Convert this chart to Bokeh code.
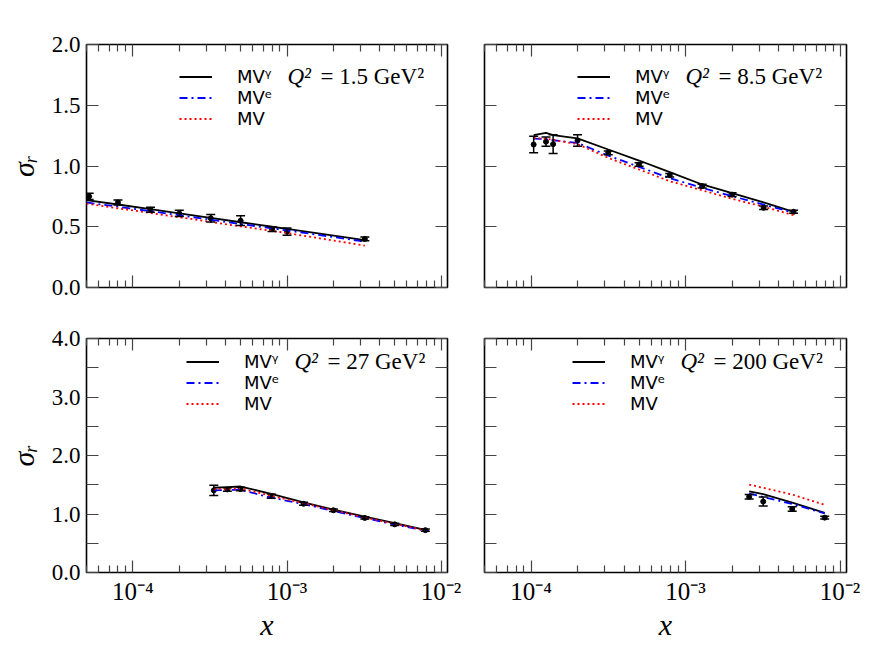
from bokeh.plotting import figure
from bokeh.models import (ColumnDataSource, Whisker, TeeHead, Range1d, FixedTicker, LogAxis,
                          LinearAxis, CustomJSTickFormatter, Legend, LegendItem, Label)
from bokeh.layouts import row, column
from bokeh.embed import file_html
from bokeh.resources import INLINE

# ---------------- data ----------------
q2_values = ["1.5", "8.5", "27", "200"]
legend_labels = ["MV\u1d5e", "MV\u1d49", "MV"]

# Q^2 = 1.5 GeV^2
p1_x = [5.2e-5, 8.0e-5, 1.3e-4, 2.0e-4, 3.2e-4, 5.0e-4, 8.0e-4, 1.0e-3, 3.2e-3]
p1_sigma = [0.75, 0.70, 0.64, 0.61, 0.57, 0.55, 0.48, 0.46, 0.40]
p1_err = [0.025, 0.02, 0.02, 0.025, 0.03, 0.04, 0.02, 0.03, 0.015]
p1_xth = [5.0e-5, 8.0e-5, 1.3e-4, 2.0e-4, 3.2e-4, 5.0e-4, 8.0e-4, 1.0e-3, 3.2e-3]
p1_mvg = [0.72, 0.683, 0.645, 0.61, 0.573, 0.537, 0.50, 0.482, 0.39]
p1_mve = [0.70, 0.665, 0.628, 0.595, 0.558, 0.522, 0.487, 0.47, 0.378]
p1_mv = [0.69, 0.652, 0.613, 0.578, 0.54, 0.503, 0.466, 0.448, 0.345]

# Q^2 = 8.5 GeV^2
p2_x = [1.04e-4, 1.25e-4, 1.39e-4, 2.0e-4, 3.16e-4, 5.0e-4, 7.9e-4, 1.28e-3, 2.0e-3, 3.2e-3, 5.0e-3]
p2_sigma = [1.177, 1.20, 1.18, 1.21, 1.108, 1.012, 0.924, 0.834, 0.765, 0.656, 0.623]
p2_err = [0.067, 0.038, 0.078, 0.048, 0.015, 0.015, 0.015, 0.015, 0.015, 0.015, 0.012]
p2_xth = [1.04e-4, 1.25e-4, 1.39e-4, 2.0e-4, 3.16e-4, 5.0e-4, 7.9e-4, 1.28e-3, 2.0e-3, 3.2e-3, 5.0e-3]
p2_mvg = [1.255, 1.273, 1.255, 1.228, 1.136, 1.045, 0.949, 0.848, 0.776, 0.70, 0.623]
p2_mve = [1.226, 1.222, 1.212, 1.19, 1.086, 0.993, 0.90, 0.82, 0.752, 0.683, 0.615]
p2_mv = [1.23, 1.225, 1.215, 1.18, 1.067, 0.971, 0.875, 0.80, 0.73, 0.665, 0.595]

# Q^2 = 27 GeV^2
p3_x = [3.35e-4, 4.1e-4, 5.0e-4, 7.9e-4, 1.28e-3, 2.0e-3, 3.2e-3, 5.0e-3, 7.9e-3]
p3_sigma = [1.404, 1.42, 1.427, 1.305, 1.174, 1.064, 0.933, 0.823, 0.724]
p3_err = [0.088, 0.03, 0.03, 0.035, 0.025, 0.02, 0.02, 0.02, 0.02]
p3_xth = [3.35e-4, 4.1e-4, 5.0e-4, 7.9e-4, 1.28e-3, 2.0e-3, 3.2e-3, 5.0e-3, 8.3e-3]
p3_mvg = [1.449, 1.46, 1.47, 1.345, 1.20, 1.075, 0.955, 0.845, 0.715]
p3_mve = [1.404, 1.41, 1.415, 1.28, 1.17, 1.05, 0.93, 0.82, 0.705]
p3_mv = [1.426, 1.432, 1.437, 1.31, 1.185, 1.065, 0.94, 0.83, 0.71]

# Q^2 = 200 GeV^2
p4_x = [2.58e-3, 3.18e-3, 4.9e-3, 7.95e-3]
p4_sigma = [1.295, 1.213, 1.086, 0.938]
p4_err = [0.04, 0.077, 0.04, 0.025]
p4_xth = [2.58e-3, 3.18e-3, 4.9e-3, 7.95e-3]
p4_mvg = [1.388, 1.338, 1.196, 1.02]
p4_mve = [1.35, 1.29, 1.17, 1.01]
p4_mv = [1.503, 1.448, 1.333, 1.158]

x_major = [1e-4, 1e-3, 1e-2]
y_top_ticks = [0.0, 0.5, 1.0, 1.5, 2.0]
y_bot_ticks = [0.0, 0.5, 1.0, 1.5, 2.0, 2.5, 3.0, 3.5, 4.0]

# ---------------- styling helpers ----------------
SERIF = "Liberation Serif"
x_minor = [m * 10.0 ** e for e in (-5, -4, -3, -2) for m in range(2, 10)]

xfmt_js = """
const e = Math.round(Math.log10(tick));
const sup = {'-':'\u207b','0':'\u2070','1':'\u00b9','2':'\u00b2','3':'\u00b3','4':'\u2074','5':'\u2075','6':'\u2076'};
return '10' + String(e).split('').map(c => sup[c]).join('');
"""
blank_js = "return '';"
ytop_js = "return tick.toFixed(1);"
ybot_js = "return (Math.abs(tick - Math.round(tick)) < 1e-6) ? tick.toFixed(1) : '';"


def style_axis(ax, fmt_code, size="23px"):
    ax.formatter = CustomJSTickFormatter(code=fmt_code)
    ax.major_tick_in = 12
    ax.major_tick_out = 0
    ax.minor_tick_in = 7
    ax.minor_tick_out = 0
    ax.major_tick_line_color = "#444444"
    ax.minor_tick_line_color = "#444444"
    ax.major_tick_line_width = 1.2
    ax.minor_tick_line_width = 1.2
    ax.axis_line_color = None
    ax.major_label_text_font = SERIF
    ax.major_label_text_font_size = size
    ax.major_label_text_color = "black"
    ax.axis_label_text_font = SERIF
    ax.axis_label_text_font_style = "italic"
    ax.axis_label_text_font_size = "30px"
    ax.axis_label_text_color = "black"


def make_panel(width, height, borders, ymax, yticks, yfmt_main, show_x, show_ylabel,
               xd, sd, ed, xth, mvg, mve, mv, q2, leg_x):
    bl, br, bt, bb = borders
    p = figure(width=width, height=height, x_axis_type="log",
               x_range=Range1d(5.0e-5, 1.1e-2), y_range=Range1d(0, ymax),
               output_backend="svg", toolbar_location=None,
               min_border_left=bl, min_border_right=br, min_border_top=bt, min_border_bottom=bb)
    p.xgrid.visible = False
    p.ygrid.visible = False
    p.outline_line_color = "black"
    p.outline_line_width = 1.6
    p.outline_line_alpha = 1.0
    p.background_fill_color = "white"
    p.border_fill_color = "white"

    xt = FixedTicker(ticks=x_major, minor_ticks=x_minor)
    yt = FixedTicker(ticks=yticks)

    bottom = p.below[0]
    bottom.ticker = xt
    style_axis(bottom, xfmt_js if show_x else blank_js, size="25px")
    if show_x:
        bottom.axis_label = "x"
        bottom.major_label_standoff = 5
        bottom.axis_label_standoff = 0
    left = p.left[0]
    left.ticker = yt
    style_axis(left, yfmt_main if show_ylabel else blank_js)
    if show_ylabel:
        left.axis_label = "\u03c3\u1d63"
        left.major_label_standoff = 6
        left.axis_label_standoff = 9

    top = LogAxis(ticker=xt)
    style_axis(top, blank_js)
    p.add_layout(top, "above")
    right = LinearAxis(ticker=yt)
    style_axis(right, blank_js)
    p.add_layout(right, "right")

    src = ColumnDataSource(dict(x=xd, y=sd,
                                upper=[s + e for s, e in zip(sd, ed)],
                                lower=[s - e for s, e in zip(sd, ed)]))
    wh = Whisker(source=src, base="x", upper="upper", lower="lower",
                 line_color="black", line_width=1.5,
                 upper_head=TeeHead(size=9, line_color="black", line_width=1.5),
                 lower_head=TeeHead(size=9, line_color="black", line_width=1.5))
    wh.level = "glyph"
    p.add_layout(wh)
    p.scatter("x", "y", source=src, size=5, color="black")

    r1 = p.line(xth, mvg, line_color="black", line_width=1.8)
    r2 = p.line(xth, mve, line_color="blue", line_width=1.8, line_dash="8 4 2 4")
    r3 = p.line(xth, mv, line_color="red", line_width=1.8, line_dash="2 3")

    # one legend per row so that rows sit exactly where the reference has them
    row_centres = [210.7, 189.7, 168.7]
    for lab, rend, yc in zip(legend_labels, [r1, r2, r3], row_centres):
        leg = Legend(items=[LegendItem(label=lab, renderers=[rend])],
                     location=(leg_x, yc - 10.5), padding=0, spacing=0, margin=0,
                     glyph_width=33, glyph_height=21, label_height=21, label_standoff=25,
                     border_line_color=None, background_fill_alpha=0.0,
                     label_text_font="DejaVu Sans", label_text_font_size="18px",
                     label_text_color="black")
        p.add_layout(leg)

    p.add_layout(Label(x=leg_x + 108, y=row_centres[0], x_units="screen", y_units="screen",
                       text="Q\u00b2", text_font=SERIF, text_font_style="italic",
                       text_font_size="23px", text_baseline="middle", text_color="black"))
    p.add_layout(Label(x=leg_x + 141, y=row_centres[0], x_units="screen", y_units="screen",
                       text="= " + q2 + " GeV\u00b2", text_font=SERIF,
                       text_font_size="23px", text_baseline="middle", text_color="black"))
    return p


p1 = make_panel(465, 312, (86, 18, 44, 25), 2.0, y_top_ticks, ytop_js, False, True,
                p1_x, p1_sigma, p1_err, p1_xth, p1_mvg, p1_mve, p1_mv, q2_values[0], 93)
p2 = make_panel(396, 312, (19, 15, 44, 25), 2.0, y_top_ticks, ytop_js, False, False,
                p2_x, p2_sigma, p2_err, p2_xth, p2_mvg, p2_mve, p2_mv, q2_values[1], 93)
p3 = make_panel(465, 331, (86, 18, 26, 62), 4.0, y_bot_ticks, ybot_js, True, True,
                p3_x, p3_sigma, p3_err, p3_xth, p3_mvg, p3_mve, p3_mv, q2_values[2], 100)
p4 = make_panel(396, 331, (19, 15, 26, 62), 4.0, y_bot_ticks, ybot_js, True, False,
                p4_x, p4_sigma, p4_err, p4_xth, p4_mvg, p4_mve, p4_mv, q2_values[3], 88)

layout = column(row(p1, p2), row(p3, p4))
open("out.html", "w").write(file_html(layout, INLINE))
